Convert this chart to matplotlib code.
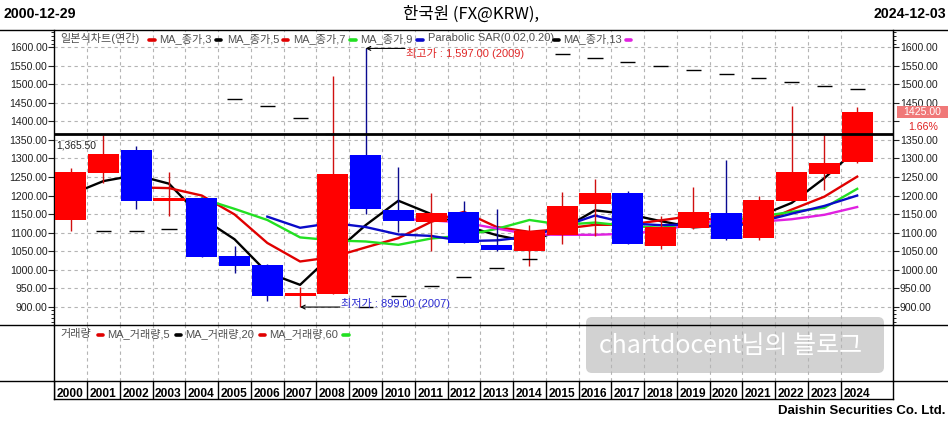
import numpy as np
import matplotlib
matplotlib.use("Agg")
import matplotlib.pyplot as plt
from matplotlib.lines import Line2D
from matplotlib.patches import Rectangle, FancyBboxPatch

plt.rcParams['font.family'] = ['Liberation Sans', 'Noto Sans CJK KR', 'DejaVu Sans']

nan = np.nan
years = list(range(2000, 2025))

# yearly candles (KRW per USD)
opens  = [1134, 1260, 1322, 1184, 1193, 1037, 1012, 928, 934, 1309, 1161, 1128, 1155,
          1066, 1049, 1093, 1176, 1207, 1065, 1113, 1153, 1085, 1186, 1258, 1291]
highs  = [1274, 1362, 1333, 1264, 1195, 1064, 1014, 953, 1523, 1597, 1276, 1206, 1185,
          1163, 1120, 1209, 1244, 1212, 1145, 1223, 1296, 1199, 1442, 1362, 1438]
lows   = [1105, 1234, 1164, 1145, 1035, 991, 916, 899, 934, 1150, 1102, 1050, 1071,
          1051, 1011, 1068, 1091, 1070, 1056, 1111, 1080, 1080, 1185, 1216, 1289]
closes = [1264, 1313, 1184, 1193, 1035, 1011, 930, 938, 1258, 1163, 1132, 1152, 1071,
          1053, 1104, 1172, 1208, 1070, 1114, 1156, 1084, 1188, 1264, 1289, 1425]

ma3 = [1203, 1239, 1255, 1232, 1140, 1082, 992, 959, 1042, 1120, 1186, 1150, 1119,
       1093, 1075, 1109, 1160, 1150, 1131, 1114, 1120, 1144, 1180, 1247, 1326]
ma5 = [nan, nan, 1222, 1220, 1200, 1149, 1072, 1022, 1034, 1060, 1085, 1129, 1156,
       1115, 1102, 1110, 1121, 1121, 1133, 1145, 1127, 1124, 1162, 1197, 1251]
ma7 = [nan, nan, nan, nan, 1192, 1164, 1134, 1087, 1079, 1076, 1067, 1084, 1092,
       1110, 1134, 1121, 1127, 1118, 1113, 1125, 1130, 1143, 1156, 1167, 1218]
ma9 = [nan, nan, nan, nan, nan, nan, 1143, 1113, 1126, 1115, 1095, 1091, 1077,
       1079, 1089, 1116, 1146, 1125, 1120, 1122, 1115, 1128, 1151, 1172, 1200]
ma13 = [nan, nan, nan, nan, nan, nan, nan, nan, nan, nan, 1137, 1133, 1127,
        1111, 1095, 1094, 1094, 1097, 1105, 1123, 1134, 1129, 1136, 1148, 1169]
sar = [nan, 1104, 1104, 1109, nan, 1460, 1441, 1408, 1367, 900, 929, 956, 980,
       1004, 1029, 1582, 1570, 1560, 1550, 1538, 1527, 1516, 1506, 1495, 1487]

hline_val = 1365.5
last_price = 1425.0
last_chg = "1.66%"
yticks = list(range(900, 1601, 50))

# ---------- layout (pixels) ----------
W, H = 948, 424
L, R = 54.3, 893.0
COLW = 32.77


def fx(px):
    return px / W


def fy(py):
    return 1 - py / H


def dx(px):  # pixel -> data x
    return (px - L) / COLW - 0.5


fig = plt.figure(figsize=(W / 100, H / 100), dpi=100)
fig.patch.set_facecolor("white")

ax = fig.add_axes([fx(L), fy(325), fx(R) - fx(L), fy(30) - fy(325)])
axv = fig.add_axes([fx(L), fy(380.7), fx(R) - fx(L), fy(325) - fy(380.7)])
axl = fig.add_axes([fx(L), fy(399.3), fx(R) - fx(L), fy(380.7) - fy(399.3)])

xmax = dx(R)
for a in (ax, axv, axl):
    a.set_xlim(-0.5, xmax)
    a.set_facecolor("none")
    a.set_xticks([])
    for s in ("top", "bottom"):
        a.spines[s].set_visible(False)
    for s in ("left", "right"):
        a.spines[s].set_linewidth(1.0)

grid_kw = dict(color="#b4b4b4", lw=0.8, ls=(0, (3, 3)), zorder=1)

# ---------- price panel ----------
ylim = (850.6, 1646.7)
ax.set_ylim(*ylim)
for v in yticks:
    ax.axhline(v, **grid_kw)
for i in range(len(years) - 1):
    ax.axvline(i + 0.5, **grid_kw)
    axv.axvline(i + 0.5, **grid_kw)

xs = np.arange(len(years))
for vals, col in [(ma3, "black"), (ma5, "#e00000"), (ma7, "#22e022"),
                  (ma9, "#0a0ac8"), (ma13, "#e020e0")]:
    ax.plot(xs, vals, color=col, lw=1.7, zorder=3)

for i in range(len(years)):
    o, h, l, c = opens[i], highs[i], lows[i], closes[i]
    up = c >= o
    body = "#ff0000" if up else "#0000ff"
    wick = "#d01010" if up else "#0a0a90"
    ax.vlines(i, l, h, color=wick, lw=1.0, zorder=3.5)
    ax.add_patch(Rectangle((i - 0.475, min(o, c)), 0.95, max(abs(c - o), 3),
                           facecolor=body, edgecolor="none", zorder=4))

ax.hlines(sar, xs - 0.23, xs + 0.23, color="black", lw=1.0, zorder=5)
ax.axhline(hline_val, color="black", lw=2.0, zorder=6)

minor = [860, 870, 880, 890, 1610, 1620, 1630, 1640]
ax.set_yticks(yticks)
ax.set_yticklabels([f"{v:.2f}" for v in yticks])
ax.set_yticks(minor, minor=True)
ax.tick_params(axis="y", which="major", left=True, right=False, labelleft=True,
               labelright=False, direction="out", length=4, width=0.8,
               labelsize=7.6, pad=1, colors="#202020")
ax.tick_params(axis="y", which="minor", left=True, right=False,
               direction="out", length=2, width=0.6)

# right-hand price scale (1400 is hidden behind the last-price tag)
axr = ax.twinx()
axr.set_ylim(*ylim)
axr.set_yticks(yticks)
axr.set_yticklabels(["" if v == 1400 else f"{v:.2f}" for v in yticks])
axr.set_yticks(minor, minor=True)
axr.tick_params(axis="y", which="major", direction="out", length=4, width=0.8,
                labelsize=7.6, pad=1, colors="#202020")
axr.tick_params(axis="y", which="minor", direction="out", length=2, width=0.6)
for s in ("top", "bottom", "left"):
    axr.spines[s].set_visible(False)

ax.text(dx(56.7), 1334, "1,365.50", fontsize=7.4, color="#202020",
        ha="left", va="center", zorder=7)

# highest / lowest annotations
ax.annotate("", xy=(9, 1597), xytext=(dx(405), 1597),
            arrowprops=dict(arrowstyle="->", color="black", lw=0.8,
                            shrinkA=0, shrinkB=0, mutation_scale=7), zorder=7)
fig.text(fx(406), fy(53.3), "최고가 : 1,597.00 (2009)", fontsize=8,
         color="#e02828", ha="left", va="center")
ax.annotate("", xy=(7, 899), xytext=(dx(340), 899),
            arrowprops=dict(arrowstyle="->", color="black", lw=0.8,
                            shrinkA=0, shrinkB=0, mutation_scale=7), zorder=7)
fig.text(fx(341), fy(303.7), "최저가 : 899.00 (2007)", fontsize=8,
         color="#2a2ad0", ha="left", va="center")

# last price tag
fig.add_artist(Rectangle((fx(897), fy(118.3)), fx(948) - fx(897), fy(106) - fy(118.3),
                         transform=fig.transFigure, facecolor="#f07878",
                         edgecolor="none", zorder=8))
fig.text(fx(922), fy(112.2), f"{last_price:.2f}", fontsize=7.6, color="white",
         ha="center", va="center", zorder=9)
fig.text(fx(923), fy(127.3), last_chg, fontsize=7.6, color="#e02020",
         ha="center", va="center", zorder=9)

# ---------- volume panel ----------
axv.set_ylim(0, 1)
axv.set_yticks([])

# ---------- year label row ----------
axl.set_ylim(0, 1)
axl.set_yticks([])
for i, yr in enumerate(years):
    axl.axvline(i - 0.5, color="black", lw=1.0)
    axl.text(i - 0.5 + 2.4 / COLW, 0.1, str(yr), fontsize=8.6, fontweight="bold",
             ha="left", va="baseline", color="black")
axl.spines["bottom"].set_visible(True)
axl.spines["bottom"].set_linewidth(1.0)

# ---------- full width frame lines ----------
for py in (30, 325, 380.7):
    fig.add_artist(Line2D([0, 1], [fy(py), fy(py)], color="black", lw=1.0, zorder=5))


# ---------- legends ----------
def legend_row(items, py, my):
    for txt, px, col, m0, m1 in items:
        fig.text(fx(px), fy(py), txt, fontsize=8, color="#505050",
                 ha="left", va="center")
        fig.add_artist(Line2D([fx(m0), fx(m1)], [fy(my), fy(my)], color=col,
                              lw=2.6, solid_capstyle="round", zorder=6))


legend_row([
    ("일본식차트(연간)", 60, "#e00000", 149, 155),
    ("MA_종가,3", 159.3, "black", 216, 221),
    ("MA_종가,5", 226.7, "#e00000", 283, 288),
    ("MA_종가,7", 293, "#22e022", 350, 356),
    ("MA_종가,9", 360, "#0a0ac8", 417, 423),
    ("Parabolic SAR(0.02,0.20)", 427.7, "black", 554, 559),
    ("MA_종가,13", 563.3, "#e020e0", 626, 631),
], 38.3, 39.5)

legend_row([
    ("거래량", 60, "#e00000", 97.5, 102.5),
    ("MA_거래량,5", 107.3, "black", 175.5, 181),
    ("MA_거래량,20", 185, "#e00000", 259.5, 265),
    ("MA_거래량,60", 269.3, "#22e022", 343, 348.5),
], 333.5, 334.5)

# ---------- header / footer ----------
fig.text(fx(3), fy(14), "2000-12-29", fontsize=10.2, fontweight="bold",
         ha="left", va="center")
fig.text(fx(946), fy(14), "2024-12-03", fontsize=10.2, fontweight="bold",
         ha="right", va="center")
fig.text(fx(471), fy(14), "한국원 (FX@KRW),", fontsize=12,
         family=["Noto Sans CJK KR", "DejaVu Sans"], ha="center", va="center")
fig.text(fx(946), fy(411), "Daishin Securities Co. Ltd.", fontsize=9.5,
         fontweight="bold", ha="right", va="center")

# watermark
fig.add_artist(FancyBboxPatch((5.86, (H - 373) / 100), 2.98, 0.56,
                              boxstyle="round,pad=0,rounding_size=0.06",
                              transform=fig.dpi_scale_trans, facecolor="#d2d2d2",
                              edgecolor="none", zorder=-1))
fig.text(fx(730.5), fy(346), "chartdocent님의 블로그", fontsize=18, color="white",
         family=["Noto Sans CJK KR", "DejaVu Sans"], ha="center", va="center", zorder=10)

fig.savefig("out.png", dpi=100)
